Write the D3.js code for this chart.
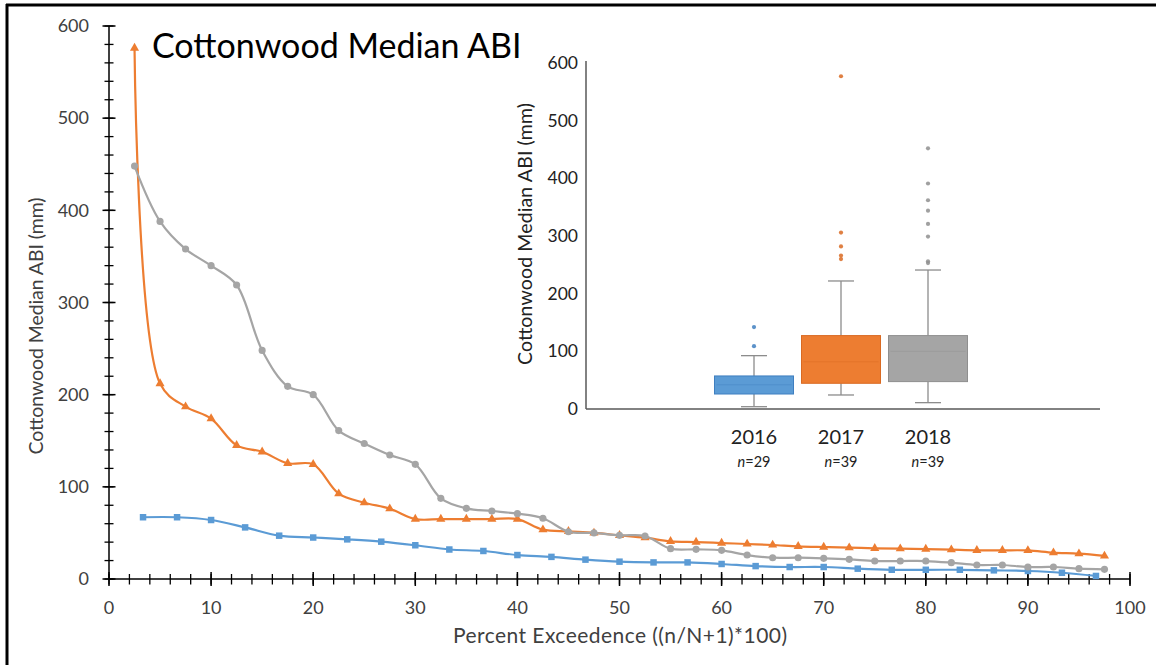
<!DOCTYPE html>
<html>
<head>
<meta charset="utf-8">
<script src="https://cdn.jsdelivr.net/npm/d3@7"></script>
<style>
  body { margin: 0; background: white; }
  svg { display: block; font-family: Lato, "Open Sans", sans-serif; }
</style>
</head>
<body>
<svg id="chart"></svg>
<script>
// colours (Excel defaults)
const BLUE = '#5b9bd5';
const ORANGE = '#ed7d31';
const GRAY = '#a5a5a5';

// line data: median ABI sorted high to low, one array per year
const abi2016 = [67, 67, 64, 56, 47, 45, 43, 40.5, 36.6, 32, 30.4, 26, 24, 21, 18.8, 18, 18, 16.3, 14, 13,
  13, 11.2, 10, 10, 10, 9.4, 8.7, 6.8, 3.3];
const abi2017 = [576, 212, 187, 174, 145, 138, 125.5, 124.4, 92.6, 82.8, 76.3, 65, 65, 65, 65, 65, 53.5, 51.7, 50, 47.4,
  44.8, 40.9, 40.1, 39, 38, 36.9, 35.5, 34.7, 34, 33.3, 32.9, 32.5, 31.8, 31.1, 31.1, 31, 28.6, 27.5, 25];
const abi2018 = [448, 388, 358, 340, 319, 248, 209, 200, 161, 147, 134.5, 124.4, 87.5, 76.7, 73.8, 70.9, 65.9, 51.3, 50, 47.4,
  46.7, 32.9, 32.2, 31.1, 26, 23.1, 23.1, 22.4, 21.3, 19.5, 19.5, 19.5, 17.7, 15.2, 15.2, 13, 13, 11.2, 10.5];

// box plot data (inset)
const years = ['2016', '2017', '2018'];
const nCounts = [29, 39, 39];
const boxQ1 = [26, 44.6, 47.5];
const boxMedian = [42, 82, 100];
const boxQ3 = [57.3, 127.3, 127.3];
const whiskerLow = [4, 24.3, 11];
const whiskerHigh = [92.5, 222, 241];
const outliers = [[109, 142], [577, 306, 282, 266, 260], [452, 391, 362, 344, 321, 299, 256, 253]];

const W = 1156, H = 665;
const svg = d3.select('#chart').attr('width', W).attr('height', H);
svg.append('rect').attr('width', W).attr('height', H).attr('fill', 'white');

// frame on top and left
svg.append('line').attr('x1', 6).attr('x2', W).attr('y1', 5).attr('y2', 5).attr('stroke', 'black').attr('stroke-width', 3);
svg.append('line').attr('x1', 7).attr('x2', 7).attr('y1', 4).attr('y2', H).attr('stroke', 'black').attr('stroke-width', 3);

// ---- main chart ----
const x = d3.scaleLinear().domain([0, 100]).range([109, 1130]);
const y = d3.scaleLinear().domain([0, 600]).range([579, 26]);

// y axis
svg.append('line').attr('x1', x(0)).attr('x2', x(0)).attr('y1', y(600)).attr('y2', y(0)).attr('stroke', 'black').attr('stroke-width', 1.5);
svg.selectAll('.ytick-minor').data(d3.range(0, 601, 20)).enter().append('line')
  .attr('x1', x(0) - 4.5).attr('x2', x(0) + 4.5)
  .attr('y1', d => y(d)).attr('y2', d => y(d))
  .attr('stroke', 'black').attr('stroke-width', 1.3);
svg.selectAll('.ytick').data(y.ticks(6)).enter().append('line')
  .attr('x1', x(0) - 6.5).attr('x2', x(0) + 6.5)
  .attr('y1', d => y(d)).attr('y2', d => y(d))
  .attr('stroke', 'black').attr('stroke-width', 1.5);
svg.selectAll('.ylabel').data(y.ticks(6)).enter().append('text')
  .attr('x', 89).attr('y', d => y(d)).attr('dy', '0.35em')
  .attr('text-anchor', 'end').attr('font-size', 18).attr('fill', '#404040')
  .text(d => d);

// x axis
svg.append('line').attr('x1', x(0)).attr('x2', x(100)).attr('y1', y(0)).attr('y2', y(0)).attr('stroke', 'black').attr('stroke-width', 1.5);
svg.selectAll('.xtick-minor').data(d3.range(0, 101, 2)).enter().append('line')
  .attr('x1', d => x(d)).attr('x2', d => x(d))
  .attr('y1', y(0) - 5).attr('y2', y(0) + 5.5)
  .attr('stroke', 'black').attr('stroke-width', 1.3);
svg.selectAll('.xtick').data(x.ticks(10)).enter().append('line')
  .attr('x1', d => x(d)).attr('x2', d => x(d))
  .attr('y1', y(0) - 7).attr('y2', y(0) + 7)
  .attr('stroke', 'black').attr('stroke-width', 1.5);
svg.selectAll('.xlabel').data(x.ticks(10)).enter().append('text')
  .attr('x', d => x(d)).attr('y', 614)
  .attr('text-anchor', 'middle').attr('font-size', 18).attr('fill', '#404040')
  .text(d => d);

// axis titles
svg.append('text').attr('x', 620).attr('y', 643).attr('text-anchor', 'middle')
  .attr('font-size', 21).attr('fill', '#404040')
  .attr('textLength', 334).attr('lengthAdjust', 'spacing')
  .text('Percent Exceedence ((n/N+1)*100)');
svg.append('text').attr('transform', 'translate(43,326) rotate(-90)').attr('text-anchor', 'middle')
  .attr('font-size', 19.5).attr('fill', '#404040')
  .attr('textLength', 257).attr('lengthAdjust', 'spacing')
  .text('Cottonwood Median ABI (mm)');

// chart title
svg.append('text').attr('x', 152).attr('y', 58).attr('font-size', 34).attr('fill', 'black')
  .text('Cottonwood Median ABI');

// series
const series = [
  { values: abi2016, color: BLUE, symbol: d3.symbolSquare, size: 42 },
  { values: abi2017, color: ORANGE, symbol: d3.symbolTriangle, size: 36 },
  { values: abi2018, color: GRAY, symbol: d3.symbolCircle, size: 40 }
];
series.forEach(s => {
  const n = s.values.length;
  const pts = s.values.map((v, i) => ({ p: (i + 1) / (n + 1) * 100, v: v }));
  const line = d3.line().x(d => x(d.p)).y(d => y(d.v)).curve(d3.curveCatmullRom.alpha(0.5));
  svg.append('path').datum(pts).attr('d', line)
    .attr('fill', 'none').attr('stroke', s.color).attr('stroke-width', 2.2);
  svg.selectAll(null).data(pts).enter().append('path')
    .attr('transform', d => `translate(${x(d.p)},${y(d.v)})`)
    .attr('d', d3.symbol().type(s.symbol).size(s.size))
    .attr('fill', s.color);
});

// ---- inset box plot ----
const iy = d3.scaleLinear().domain([0, 600]).range([409, 63]);
const ix = d3.scalePoint().domain(years).range([754, 928]);
const boxColors = [BLUE, ORANGE, GRAY];
const boxStroke = ['#3f7fc0', '#d96a22', '#8f8f8f'];
const boxW = 79;

const inset = svg.append('g');
inset.append('rect').attr('x', 586).attr('y', 55).attr('width', 520).attr('height', 360).attr('fill', 'white');
inset.append('line').attr('x1', 586).attr('x2', 586).attr('y1', 61).attr('y2', iy(0))
  .attr('stroke', '#595959').attr('stroke-width', 1.5);
inset.append('line').attr('x1', 586).attr('x2', 1100).attr('y1', iy(0)).attr('y2', iy(0))
  .attr('stroke', '#595959').attr('stroke-width', 1.5);
inset.selectAll('.iylabel').data(iy.ticks(6)).enter().append('text')
  .attr('x', 578).attr('y', d => iy(d)).attr('dy', '0.35em')
  .attr('text-anchor', 'end').attr('font-size', 17.5).attr('fill', '#222')
  .text(d => d);
inset.append('text').attr('transform', 'translate(532,234) rotate(-90)').attr('text-anchor', 'middle')
  .attr('font-size', 19.5).attr('fill', '#222')
  .attr('textLength', 262).attr('lengthAdjust', 'spacing')
  .text('Cottonwood Median ABI (mm)');

years.forEach((yr, i) => {
  const cx = ix(yr);
  const g = inset.append('g');
  // whiskers
  g.append('line').attr('x1', cx).attr('x2', cx).attr('y1', iy(whiskerHigh[i])).attr('y2', iy(boxQ3[i]))
    .attr('stroke', '#8c8c8c').attr('stroke-width', 1.3);
  g.append('line').attr('x1', cx).attr('x2', cx).attr('y1', iy(boxQ1[i])).attr('y2', iy(whiskerLow[i]))
    .attr('stroke', '#8c8c8c').attr('stroke-width', 1.3);
  [whiskerHigh[i], whiskerLow[i]].forEach(v => {
    g.append('line').attr('x1', cx - 13).attr('x2', cx + 13).attr('y1', iy(v)).attr('y2', iy(v))
      .attr('stroke', '#8c8c8c').attr('stroke-width', 1.3);
  });
  // box
  g.append('rect').attr('x', cx - boxW / 2).attr('y', iy(boxQ3[i]))
    .attr('width', boxW).attr('height', iy(boxQ1[i]) - iy(boxQ3[i]))
    .attr('fill', boxColors[i]).attr('stroke', boxStroke[i]).attr('stroke-width', 1);
  g.append('line').attr('x1', cx - boxW / 2 + 2).attr('x2', cx + boxW / 2 - 2)
    .attr('y1', iy(boxMedian[i])).attr('y2', iy(boxMedian[i]))
    .attr('stroke', boxStroke[i]).attr('stroke-width', 0.8).attr('opacity', 0.5);
  // outliers
  g.selectAll(null).data(outliers[i]).enter().append('circle')
    .attr('cx', cx).attr('cy', d => iy(d)).attr('r', 2.1)
    .attr('fill', boxStroke[i]).attr('opacity', 0.85);
  // category labels
  inset.append('text').attr('x', cx).attr('y', 444).attr('text-anchor', 'middle')
    .attr('font-size', 20).attr('fill', '#222').text(yr);
  const t = inset.append('text').attr('x', cx).attr('y', 467).attr('text-anchor', 'middle')
    .attr('font-size', 14.5).attr('fill', '#222');
  t.append('tspan').attr('font-style', 'italic').text('n');
  t.append('tspan').text('=' + nCounts[i]);
});
</script>
</body>
</html>
